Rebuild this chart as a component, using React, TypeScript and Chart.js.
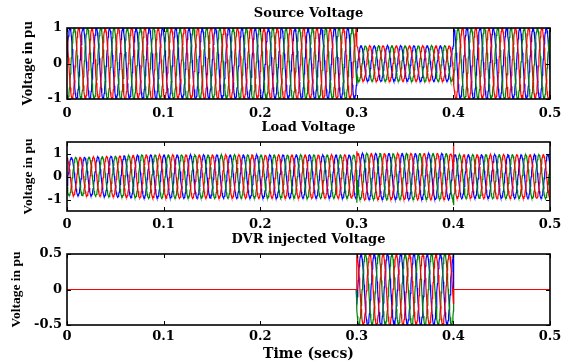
import React, { useEffect, useRef } from "react";
import { Chart, registerables } from "chart.js";

Chart.register(...registerables);

// ---- data ----
const timeTicks = [0, 0.1, 0.2, 0.3, 0.4, 0.5];
const phaseNames = ["Phase A", "Phase B", "Phase C"];
const phaseColors = ["#ff0000", "#008000", "#0000ff"];
const phaseLagCycles = [2 / 3, 1 / 3, 0];
const FREQ_HZ = 73;
const SAMPLE_STEP = 0.0005;

// Source voltage: amplitude per time segment (sag between 0.3 and 0.4 s)
const sourceSegTimes = [0, 0.3, 0.4, 0.5];
const sourceSegAmps = [1.0, 0.5, 1.0];
const sourcePeakTime = 0.003;

// Load voltage: amplitude envelope and transient spikes
const loadEnvTimes = [0, 0.03, 0.08, 0.3, 0.3, 0.4, 0.4, 0.5];
const loadEnvAmps = [0.82, 0.85, 0.94, 0.94, 1.0, 1.0, 0.95, 0.95];
const loadPeakTime = 0.0045;
const loadSpikeTimes = [0.3, 0.4];
const loadSpikeA = [1.1, 1.45];
const loadSpikeB = [-1.14, -1.25];
const loadSpikeC = [null, null];

// DVR injected voltage: amplitude per time segment
const dvrSegTimes = [0, 0.3, 0.4, 0.5];
const dvrSegAmps = [0, 0.5, 0];
const dvrPeakTime = 0.003;

const sourceYTicks = [-1, 0, 1];
const loadYTicks = [-1, 0, 1];
const dvrYTicks = [-0.5, 0, 0.5];

// ---- helpers ----
type Pt = { x: number; y: number };

function wave(t: number, peakTime: number, lag: number) {
  return Math.cos(2 * Math.PI * (FREQ_HZ * (t - peakTime) - lag));
}

function segmentSeries(bounds: number[], amps: number[], peakTime: number, lag: number): Pt[] {
  const pts: Pt[] = [];
  for (let i = 0; i < amps.length; i++) {
    const a = bounds[i];
    const b = bounds[i + 1];
    const n = Math.round((b - a) / SAMPLE_STEP);
    for (let k = 0; k <= n; k++) {
      const t = a + ((b - a) * k) / n;
      pts.push({ x: t, y: amps[i] * wave(t, peakTime, lag) });
    }
  }
  return pts;
}

function envAmp(t: number) {
  for (let i = 0; i < loadEnvTimes.length - 1; i++) {
    const a = loadEnvTimes[i];
    const b = loadEnvTimes[i + 1];
    if (t >= a && t < b) {
      return loadEnvAmps[i] + ((loadEnvAmps[i + 1] - loadEnvAmps[i]) * (t - a)) / (b - a);
    }
  }
  return loadEnvAmps[loadEnvAmps.length - 1];
}

function loadSeries(idx: number): Pt[] {
  const spikes = [loadSpikeA, loadSpikeB, loadSpikeC][idx];
  const pts: Pt[] = [];
  const n = Math.round(0.5 / SAMPLE_STEP);
  for (let k = 0; k <= n; k++) {
    const t = (0.5 * k) / n;
    pts.push({ x: t, y: envAmp(t) * wave(t, loadPeakTime, phaseLagCycles[idx]) });
  }
  loadSpikeTimes.forEach((ts, j) => {
    const v = spikes[j];
    if (v !== null && v !== undefined) pts.push({ x: ts + 0.0001, y: v });
  });
  pts.sort((p, q) => p.x - q.x);
  return pts;
}

const WIDE_SERIF = "'DejaVu Serif', serif";
const TIMES = "'Liberation Serif', 'Times New Roman', serif";

const matlabFrame = {
  id: "matlabFrame",
  afterDatasetsDraw(chart: any) {
    const { ctx, chartArea: a, scales } = chart;
    const tl = 4;
    ctx.save();
    ctx.strokeStyle = "#000";
    ctx.lineWidth = 1;
    ctx.beginPath();
    scales.x.ticks.forEach((tk: any) => {
      const x = Math.round(scales.x.getPixelForValue(tk.value)) + 0.5;
      ctx.moveTo(x, a.top);
      ctx.lineTo(x, a.top + tl);
      ctx.moveTo(x, a.bottom);
      ctx.lineTo(x, a.bottom - tl);
    });
    scales.y.ticks.forEach((tk: any) => {
      const y = Math.round(scales.y.getPixelForValue(tk.value)) + 0.5;
      ctx.moveTo(a.left, y);
      ctx.lineTo(a.left + tl, y);
      ctx.moveTo(a.right, y);
      ctx.lineTo(a.right - tl, y);
    });
    ctx.stroke();
    ctx.lineWidth = 1.6;
    ctx.strokeRect(a.left, a.top, a.right - a.left, a.bottom - a.top);
    ctx.restore();
  },
};

type PanelSpec = {
  title: string;
  series: Pt[][];
  yMin: number;
  yMax: number;
  yTicks: number[];
  xAxisHeight: number;
  xTickPad: number;
  yTitleSize: number;
  yTitlePad: number;
  xTitle?: string;
};

function buildConfig(p: PanelSpec): any {
  return {
    type: "line",
    data: {
      datasets: p.series.map((pts, i) => ({
        label: phaseNames[i],
        data: pts,
        borderColor: phaseColors[i],
        backgroundColor: phaseColors[i],
        borderWidth: 1.2,
        pointRadius: 0,
        tension: 0,
        fill: false,
      })),
    },
    options: {
      animation: false,
      responsive: false,
      maintainAspectRatio: false,
      parsing: false,
      normalized: true,
      events: [],
      layout: { padding: { left: 0, right: 13, top: 0, bottom: 0 } },
      plugins: {
        legend: { display: false },
        tooltip: { enabled: false },
        title: {
          display: true,
          text: p.title,
          fullSize: false,
          color: "#000",
          font: { family: WIDE_SERIF, size: 13, weight: "bold", lineHeight: 1.2 },
          padding: { top: 6, bottom: 6.4 },
        },
      },
      scales: {
        x: {
          type: "linear",
          min: 0,
          max: 0.5,
          afterBuildTicks: (s: any) => {
            s.ticks = timeTicks.map((v) => ({ value: v }));
          },
          afterFit: (s: any) => {
            s.height = p.xAxisHeight;
            s.paddingLeft = 0;
            s.paddingRight = 0;
          },
          ticks: {
            color: "#000",
            font: { family: WIDE_SERIF, size: 13, weight: "bold" },
            padding: p.xTickPad,
            maxRotation: 0,
            autoSkip: false,
            callback: (v: any) => String(Math.round(v * 10) / 10),
          },
          grid: { display: false, drawTicks: false },
          border: { display: false },
          title: p.xTitle
            ? {
                display: true,
                text: p.xTitle,
                color: "#000",
                font: { family: WIDE_SERIF, size: 14, weight: "bold", lineHeight: 1.2 },
                padding: { top: 0, bottom: 0 },
              }
            : { display: false },
        },
        y: {
          type: "linear",
          min: p.yMin,
          max: p.yMax,
          afterBuildTicks: (s: any) => {
            s.ticks = p.yTicks.map((v) => ({ value: v }));
          },
          afterFit: (s: any) => {
            s.width = 67;
            s.paddingTop = 0;
            s.paddingBottom = 0;
          },
          ticks: {
            color: "#000",
            font: { family: WIDE_SERIF, size: 13, weight: "bold" },
            padding: 5,
            callback: (v: any) => String(v),
          },
          grid: { display: false, drawTicks: false },
          border: { display: false },
          title: {
            display: true,
            text: "Voltage in pu",
            color: "#000",
            font: { family: TIMES, size: p.yTitleSize, weight: "bold", lineHeight: 1.2 },
            padding: { top: p.yTitlePad, bottom: 0 },
          },
        },
      },
    },
    plugins: [matlabFrame],
  };
}

function Panel({ spec, top, height }: { spec: PanelSpec; top: number; height: number }) {
  const ref = useRef<HTMLCanvasElement | null>(null);
  useEffect(() => {
    if (!ref.current) return;
    const chart = new Chart(ref.current, buildConfig(spec));
    return () => chart.destroy();
  }, [spec]);
  return (
    <canvas
      ref={ref}
      width={563}
      height={height}
      style={{ position: "absolute", left: 0, top, width: 563, height }}
    />
  );
}

const sourceSpec: PanelSpec = {
  title: "Source Voltage",
  series: [0, 1, 2].map((i) => segmentSeries(sourceSegTimes, sourceSegAmps, sourcePeakTime, phaseLagCycles[i])),
  yMin: -1,
  yMax: 1,
  yTicks: sourceYTicks,
  xAxisHeight: 23,
  xTickPad: 7,
  yTitleSize: 15,
  yTitlePad: 19,
};

const loadSpec: PanelSpec = {
  title: "Load Voltage",
  series: [0, 1, 2].map((i) => loadSeries(i)),
  yMin: -1.5,
  yMax: 1.5,
  yTicks: loadYTicks,
  xAxisHeight: 25,
  xTickPad: 6,
  yTitleSize: 13.5,
  yTitlePad: 20,
};

const dvrSpec: PanelSpec = {
  title: "DVR injected Voltage",
  series: [0, 1, 2].map((i) => segmentSeries(dvrSegTimes, dvrSegAmps, dvrPeakTime, phaseLagCycles[i])),
  yMin: -0.5,
  yMax: 0.5,
  yTicks: dvrYTicks,
  xAxisHeight: 38,
  xTickPad: 4,
  yTitleSize: 13.5,
  yTitlePad: 8,
  xTitle: "Time (secs)",
};

export default function App() {
  return (
    <div
      style={{
        position: "absolute",
        left: 0,
        top: 0,
        width: 563,
        height: 363,
        background: "#fff",
        overflow: "hidden",
      }}
    >
      <Panel spec={sourceSpec} top={0} height={122} />
      <Panel spec={loadSpec} top={114} height={122} />
      <Panel spec={dvrSpec} top={226} height={137} />
    </div>
  );
}
